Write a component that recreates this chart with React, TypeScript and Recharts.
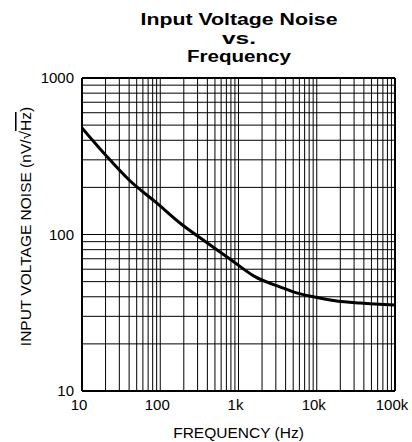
import React from "react";
import {
  LineChart,
  Line,
  XAxis,
  YAxis,
  ReferenceLine,
  Label,
} from "recharts";

const FREQ = [10, 20, 40, 90, 180, 380, 800, 1600, 3500, 5000, 9000, 18000, 36000, 100000];
const NOISE = [480, 322, 223, 159, 118, 90, 69, 54, 46, 43, 40, 37.6, 36.5, 35.5];

const X_TICKS = [10, 100, 1000, 10000, 100000];
const X_TICK_LABELS = ["10", "100", "1k", "10k", "100k"];
const Y_TICKS = [10, 100, 1000];

const X_GRID = [
  20, 30, 40, 50, 60, 70, 80, 90, 100,
  200, 300, 400, 500, 600, 700, 800, 900, 1000,
  2000, 3000, 4000, 5000, 6000, 7000, 8000, 9000, 10000,
  20000, 30000, 40000, 50000, 60000, 70000, 80000, 90000,
];
const Y_GRID = [
  20, 30, 40, 50, 60, 70, 80, 90, 100,
  200, 300, 400, 500, 600, 700, 800, 900,
];

const TITLE_LINES = ["Input Voltage Noise", "vs.", "Frequency"];
const TITLE_WIDTHS = [197, 34, 104];

const data = FREQ.map((f, i) => ({ freq: f, noise: NOISE[i] }));

const FONT = "'Liberation Sans', Arial, sans-serif";

// eslint-disable-next-line @typescript-eslint/no-explicit-any
function YLabel(props: any) {
  const { viewBox } = props;
  const cx = 25;
  const cy = viewBox.y + viewBox.height / 2 - 8;
  return (
    <text
      x={cx}
      y={cy}
      transform={`rotate(-90, ${cx}, ${cy})`}
      textAnchor="middle"
      dominantBaseline="central"
      fontFamily={FONT}
      fontSize={15.5}
      fill="#000">
      INPUT VOLTAGE NOISE (nV/√
      <tspan textDecoration="overline">Hz</tspan>)
    </text>
  );
}

export default function App() {
  return (
    <div
      style={{
        position: "absolute",
        left: 0,
        top: 0,
        width: 412,
        height: 442,
        background: "#fff",
        fontFamily: FONT,
      }}>
      <LineChart
        width={412}
        height={442}
        data={data}
        margin={{ top: 78, right: 17, left: 0, bottom: 0 }}>
        <XAxis
          dataKey="freq"
          type="number"
          scale="log"
          domain={[10, 100000]}
          ticks={X_TICKS}
          tickFormatter={(v: number) => X_TICK_LABELS[X_TICKS.indexOf(v)]}
          tickLine={false}
          axisLine={{ stroke: "#000", strokeWidth: 2 }}
          tick={{ fill: "#000", fontSize: 15, fontFamily: FONT, dx: -3 }}
          tickMargin={2}
          height={51}
          allowDataOverflow>
          <Label
            value="FREQUENCY (Hz)"
            position="insideBottom"
            offset={4}
            style={{ fill: "#000", fontSize: 15.5, fontFamily: FONT }}
          />
        </XAxis>
        <YAxis
          type="number"
          scale="log"
          domain={[10, 1000]}
          ticks={Y_TICKS}
          tickLine={false}
          axisLine={{ stroke: "#000", strokeWidth: 2 }}
          tick={{ fill: "#000", fontSize: 15, fontFamily: FONT }}
          tickMargin={2}
          width={82}
          allowDataOverflow>
          <Label content={<YLabel />} />
        </YAxis>
        {X_GRID.map((v) => (
          <ReferenceLine key={`x${v}`} x={v} stroke="#000" strokeWidth={1} />
        ))}
        {Y_GRID.map((v) => (
          <ReferenceLine key={`y${v}`} y={v} stroke="#000" strokeWidth={1} />
        ))}
        <ReferenceLine x={100000} stroke="#000" strokeWidth={2} />
        <ReferenceLine y={1000} stroke="#000" strokeWidth={2} />
        <Line
          dataKey="noise"
          type="monotone"
          stroke="#000"
          strokeWidth={3}
          dot={false}
          isAnimationActive={false}
        />
      </LineChart>
      <svg
        width={412}
        height={75}
        style={{ position: "absolute", left: 0, top: 0 }}>
        {TITLE_LINES.map((t, i) => (
          <text
            key={t}
            x={239}
            y={25 + i * 18.5}
            textAnchor="middle"
            textLength={TITLE_WIDTHS[i]}
            lengthAdjust="spacingAndGlyphs"
            fontFamily={FONT}
            fontWeight="bold"
            fontSize={16}
            fill="#000">
            {t}
          </text>
        ))}
      </svg>
    </div>
  );
}
